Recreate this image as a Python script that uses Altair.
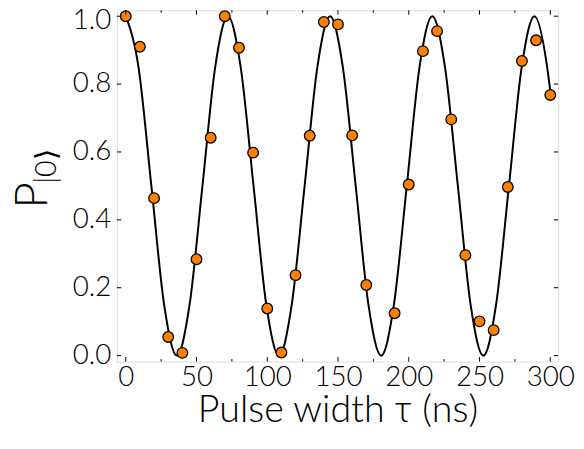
import altair as alt
import pandas as pd

# Measured points (pulse width in ns, probability of |0>)
tau = [0, 10, 20, 30, 40, 50, 60, 70, 80, 90, 100, 110, 120, 130, 140, 150, 160, 170,
       190, 200, 210, 220, 230, 240, 250, 260, 270, 280, 290, 300]
p0 = [1.0, 0.91, 0.464, 0.055, 0.008, 0.284, 0.642, 1.0, 0.907, 0.598, 0.139, 0.009,
      0.237, 0.648, 0.983, 0.976, 0.649, 0.208, 0.125, 0.504, 0.897, 0.956, 0.696,
      0.296, 0.101, 0.075, 0.497, 0.868, 0.929, 0.768]

# Fit curve (peaks, troughs and points in between)
fit_tau = [0, 9.0, 18.1, 27.1, 36.1, 45.1, 54.2, 63.2, 72.2, 81.2, 90.3, 99.3, 108.3,
           117.3, 126.4, 135.4, 144.4, 153.4, 162.5, 171.5, 180.5, 189.5, 198.6, 207.6,
           216.6, 225.6, 234.7, 243.7, 252.7, 261.7, 270.8, 279.8, 288.8, 297.8, 300.0]
fit_p = [1.0, 0.85, 0.5, 0.15, 0.0, 0.15, 0.5, 0.85,
         1.0, 0.85, 0.5, 0.15, 0.0, 0.15, 0.5, 0.85,
         1.0, 0.85, 0.5, 0.15, 0.0, 0.15, 0.5, 0.85,
         1.0, 0.85, 0.5, 0.15, 0.0, 0.15, 0.5, 0.85,
         1.0, 0.85, 0.78]

x_major = [0, 50, 100, 150, 200, 250, 300]
x_minor = [25, 75, 125, 175, 225, 275]
y_major = [0.0, 0.2, 0.4, 0.6, 0.8, 1.0]

W, H = 446, 355
FONT = "Lato"
WEIGHT = 300
MAJ, MIN = 4.5, 2.5

pts = pd.DataFrame({"tau": tau, "p": p0})
fit = pd.DataFrame({"tau": fit_tau, "p": fit_p})
xmaj = pd.DataFrame({"v": x_major})
xmin = pd.DataFrame({"v": x_minor})
ymaj = pd.DataFrame({"v": y_major})

xs = alt.Scale(domain=[-6.3, 305.6], nice=False, zero=False)
ys = alt.Scale(domain=[-0.0175, 1.0175], nice=False, zero=False)

x_axis = alt.Axis(values=x_major, title="Pulse width τ (ns)", labelFont=FONT,
                  labelFontSize=28, labelFontWeight=WEIGHT, labelColor="black",
                  ticks=False, tickSize=0, domain=False, grid=False, labelPadding=2,
                  titleFont=FONT, titleFontSize=38, titleFontWeight=WEIGHT,
                  titleColor="black", titleBaseline="alphabetic", titleY=61,
                  labelFlush=False)
y_axis = alt.Axis(values=y_major, format=".1f", title=None, labelFont=FONT,
                  labelFontSize=28, labelFontWeight=WEIGHT, labelColor="black",
                  ticks=False, tickSize=0, domain=False, grid=False, labelPadding=6,
                  labelFlush=False,
                  labelOffset={"condition": {"test": "datum.value == 1", "value": 4},
                               "value": 0})

line = alt.Chart(fit).mark_line(color="black", strokeWidth=2, interpolate="monotone").encode(
    x=alt.X("tau:Q", scale=xs, axis=x_axis),
    y=alt.Y("p:Q", scale=ys, axis=y_axis),
)

points = alt.Chart(pts).mark_circle(color="#ff8000", stroke="black", strokeWidth=1.3,
                                    opacity=1, size=115).encode(
    x=alt.X("tau:Q", scale=xs),
    y=alt.Y("p:Q", scale=ys),
)

def xticks(df, length):
    bottom = alt.Chart(df).mark_rule(color="black", strokeWidth=1).encode(
        x=alt.X("v:Q", scale=xs), y=alt.value(H), y2=alt.value(H - length))
    top = alt.Chart(df).mark_rule(color="black", strokeWidth=1).encode(
        x=alt.X("v:Q", scale=xs), y=alt.value(0), y2=alt.value(length))
    return [bottom, top]

def yticks(df, length):
    left = alt.Chart(df).mark_rule(color="black", strokeWidth=1).encode(
        y=alt.Y("v:Q", scale=ys), x=alt.value(0), x2=alt.value(length))
    right = alt.Chart(df).mark_rule(color="black", strokeWidth=1).encode(
        y=alt.Y("v:Q", scale=ys), x=alt.value(W), x2=alt.value(W - length))
    return [left, right]

lab = pd.DataFrame({"s": ["P"]})
ytitle_p = alt.Chart(lab).mark_text(font=FONT, fontSize=46, fontWeight=WEIGHT, angle=270,
                                    align="center", baseline="middle", color="black").encode(
    x=alt.value(-85), y=alt.value(187), text="s:N")
sub = pd.DataFrame({"s": ["|0⟩"]})
ytitle_sub = alt.Chart(sub).mark_text(font=FONT, fontSize=29, fontWeight=WEIGHT, angle=270,
                                      align="center", baseline="middle", color="black").encode(
    x=alt.value(-70), y=alt.value(158), text="s:N")

layers = [line, points] + xticks(xmaj, MAJ) + xticks(xmin, MIN) + yticks(ymaj, MAJ) + [ytitle_p, ytitle_sub]

chart = alt.layer(*layers).properties(
    width=W, height=H,
    padding={"left": 110, "top": 0, "right": 18, "bottom": 78},
    autosize=alt.AutoSizeParams(type="none"),
).configure_view(stroke="black", strokeWidth=1.2).configure(background="white")

chart.save("out.html", embed_options={"renderer": "svg", "actions": False})
